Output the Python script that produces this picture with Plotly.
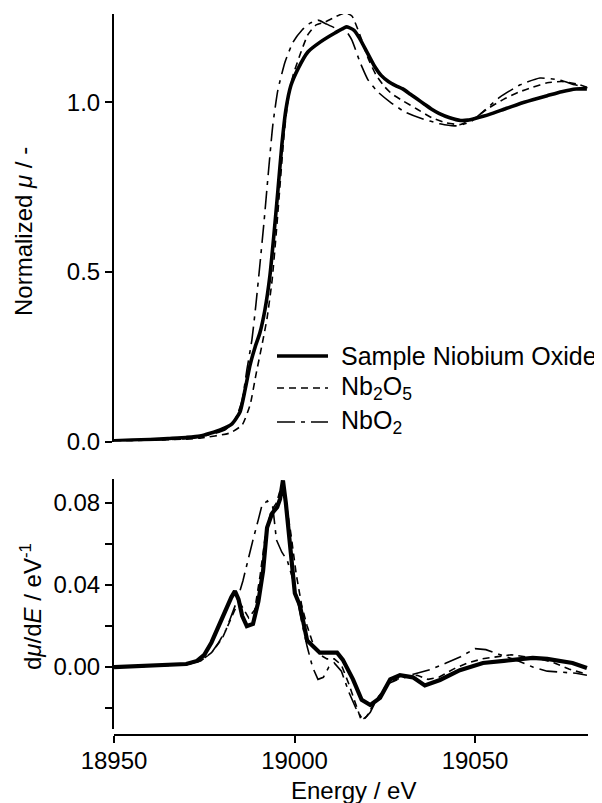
import plotly.graph_objects as go

# ---------------- data ----------------
# Normalized mu, top panel
E_sample = [18950, 18955, 18960, 18965, 18970, 18973.8, 18979.4, 18982.7, 18984.9, 18986.3,
            18987.7, 18989.1, 18990.4, 18991.8, 18993.2, 18994.3, 18995.4, 18996.5, 18997.6,
            18999.0, 19001.0, 19003.7, 19007.1, 19011.2, 19014.5, 19016.5, 19018, 19020, 19022,
            19024, 19026, 19028, 19030, 19032, 19034, 19036, 19038, 19040, 19043, 19046, 19048,
            19050, 19054, 19058, 19062, 19066, 19070, 19074, 19078, 19081]
mu_sample = [0.002, 0.004, 0.006, 0.009, 0.012, 0.016, 0.034, 0.052, 0.087, 0.152,
             0.226, 0.279, 0.32, 0.388, 0.49, 0.61, 0.74, 0.875, 0.978,
             1.05, 1.10, 1.149, 1.178, 1.205, 1.223, 1.213, 1.19, 1.15, 1.11,
             1.08, 1.062, 1.05, 1.04, 1.025, 1.01, 0.995, 0.98, 0.968, 0.955, 0.947, 0.948,
             0.953, 0.965, 0.98, 0.995, 1.008, 1.02, 1.032, 1.04, 1.04]

E_nb2o5 = [18950, 18960, 18970, 18973.8, 18982.1, 18985.5, 18987.7, 18989.3, 18991, 18992.4,
           18993.8, 18994.9, 18996, 18997.1, 18998.2, 18999.6, 19001.5, 19003.7, 19006, 19008.4,
           19011.2, 19014, 19015.9, 19018.1, 19020.4, 19022.6, 19025, 19027, 19030, 19034, 19038,
           19042, 19046, 19050, 19054, 19058, 19062, 19066, 19070, 19074, 19078, 19081]
mu_nb2o5 = [0.001, 0.004, 0.007, 0.01, 0.025, 0.049, 0.108, 0.196, 0.285, 0.364,
            0.476, 0.609, 0.757, 0.904, 1.007, 1.08, 1.14, 1.2, 1.229, 1.237,
            1.252, 1.264, 1.255, 1.2, 1.13, 1.081, 1.046, 1.025, 1.005, 0.98, 0.955,
            0.94, 0.935, 0.955, 0.985, 1.01, 1.03, 1.045, 1.058, 1.062, 1.055, 1.045]

E_nbo2 = [18950, 18960, 18970, 18973.8, 18980.7, 18983.5, 18985.5, 18986.8, 18988.2, 18989.3,
          18990.4, 18991.6, 18992.7, 18994, 18995.4, 18997.4, 18999.6, 19002.1, 19004.3,
          19006.5, 19008.4, 19011.2, 19014, 19015.9, 19018.1, 19020.4, 19023.1, 19026.5,
          19030.6, 19034.8, 19040.3, 19044.5, 19048.6, 19052.8, 19056.9, 19062.5, 19068,
          19073.5, 19077.7, 19081.3]
mu_nbo2 = [0.001, 0.004, 0.008, 0.013, 0.034, 0.063, 0.122, 0.211, 0.3, 0.403,
           0.52, 0.653, 0.786, 0.934, 1.037, 1.12, 1.178, 1.214, 1.234,
           1.243, 1.234, 1.22, 1.214, 1.184, 1.12, 1.066, 1.031, 1.001,
           0.972, 0.954, 0.937, 0.931, 0.942, 0.978, 1.016, 1.052, 1.072,
           1.066, 1.052, 1.043]

# Derivative, bottom panel
dE_sample = [18950, 18955, 18960, 18965, 18970, 18973, 18975, 18977, 18979, 18981, 18982.5,
             18983.5, 18984.5, 18985.5, 18986.8, 18988.5, 18990, 18991.3, 18992.4, 18993.8,
             18995.2, 18996, 18996.8, 18997.6, 18998.8, 19000.1, 19001.5, 19003.5, 19007,
             19011.8, 19013.4, 19016.2, 19018.6, 19021, 19023.7, 19026.5, 19029.2, 19032.8,
             19036.1, 19040.3, 19045.8, 19052.2, 19058, 19062, 19066, 19070, 19074, 19077, 19081]
d_sample = [0.0, 0.0003, 0.0005, 0.001, 0.0015, 0.003, 0.006, 0.012, 0.02, 0.029, 0.034,
            0.037, 0.033, 0.025, 0.020, 0.021, 0.032, 0.047, 0.068, 0.075,
            0.078, 0.082, 0.091, 0.08, 0.06, 0.036, 0.030, 0.013, 0.007,
            0.007, 0.0035, -0.006, -0.016, -0.0185, -0.015, -0.006, -0.004, -0.005,
            -0.009, -0.0063, -0.0015, 0.002, 0.003, 0.0035, 0.0045, 0.004, 0.003, 0.002, -0.0005]

dE_nb2o5 = [18950, 18960, 18970, 18974, 18977, 18980, 18982, 18983.5, 18985, 18986, 18987.3,
            18989, 18990.5, 18992, 18993.5, 18995, 18996.5, 18997.5, 18999, 19000.5, 19002,
            19003.5, 19005, 19007, 19009, 19011, 19013, 19015, 19017, 19018.5, 19020, 19022,
            19025, 19028, 19031, 19034, 19037, 19040, 19044, 19048, 19052, 19056, 19060, 19064,
            19068, 19072, 19076, 19080]
d_nb2o5 = [0.0, 0.0004, 0.0012, 0.003, 0.007, 0.014, 0.022, 0.028, 0.031, 0.028, 0.024,
           0.028, 0.045, 0.065, 0.076, 0.08, 0.089, 0.082, 0.065, 0.045, 0.03,
           0.02, 0.012, 0.006, 0.004, 0.004, 0.001, -0.008, -0.018, -0.026, -0.024, -0.018,
           -0.01, -0.006, -0.005, -0.004, -0.006, -0.005, -0.001, 0.002, 0.004, 0.005, 0.006, 0.005,
           0.004, 0.002, -0.001, -0.003]

dE_nbo2 = [18950, 18960, 18970, 18974, 18977, 18979, 18981, 18982.5, 18984, 18985.7, 18987,
           18988.5, 18990, 18991, 18992.5, 18994, 18995, 18996.5, 18998, 19000, 19002, 19003.5,
           19005, 19006.5, 19008, 19009.5, 19011, 19013, 19015, 19017, 19019, 19021, 19023,
           19026, 19030, 19034, 19038, 19042, 19046, 19050, 19053, 19057, 19062, 19066, 19070,
           19074, 19078, 19081]
d_nbo2 = [0.0, 0.0004, 0.0012, 0.003, 0.007, 0.012, 0.018, 0.025, 0.032, 0.042, 0.052,
          0.062, 0.072, 0.079, 0.081, 0.078, 0.062, 0.056, 0.052, 0.04, 0.022, 0.01,
          0.0, -0.006, -0.005, 0.0, 0.002, -0.002, -0.012, -0.02, -0.026, -0.022, -0.015,
          -0.008, -0.005, -0.003, -0.001, 0.002, 0.005, 0.009, 0.0085, 0.006, 0.003, 0.0, -0.002,
          -0.0025, -0.003, -0.004]

series_names = ["Sample Niobium Oxide", "Nb<sub>2</sub>O<sub>5</sub>", "NbO<sub>2</sub>"]
x_ticks = [18950, 19000, 19050]
top_ticks = [0.0, 0.5, 1.0]
top_tick_text = ["0.0", "0.5", "1.0"]
bot_ticks = [0.0, 0.04, 0.08]
bot_tick_text = ["0.00", "0.04", "0.08"]

# ---------------- styles ----------------
FONT = "Liberation Sans, Arial, Helvetica, sans-serif"
styles = [
    dict(color="black", width=3.6, dash="solid"),
    dict(color="black", width=1.6, dash="7px,5px"),
    dict(color="black", width=1.6, dash="18px,6px,4px,6px"),
]
bottom_widths = [4.2, 1.6, 1.6]

fig = go.Figure()
tops = [(E_sample, mu_sample), (E_nb2o5, mu_nb2o5), (E_nbo2, mu_nbo2)]
bots = [(dE_sample, d_sample), (dE_nb2o5, d_nb2o5), (dE_nbo2, d_nbo2)]
for (xs, ys), st, nm in zip(tops, styles, series_names):
    fig.add_trace(go.Scatter(x=xs, y=ys, mode="lines", name=nm, showlegend=False,
                             line=dict(color=st["color"], width=st["width"], dash=st["dash"],
                                       shape="spline", smoothing=0.5),
                             xaxis="x2", yaxis="y2"))
for (xs, ys), st, bw, nm in zip(bots, styles, bottom_widths, series_names):
    fig.add_trace(go.Scatter(x=xs, y=ys, mode="lines", name=nm, showlegend=False,
                             line=dict(color=st["color"], width=bw, dash=st["dash"]),
                             xaxis="x", yaxis="y"))

# The page body adds an 8px margin, so the figure is drawn 8px in from the window corner.
OFF = 8
W, H = 602 - OFF, 803 - OFF
ml, mr, mt, mb = 114 - OFF, 14, 14 - OFF, 68
pw = W - ml - mr
ph = H - mt - mb

def px_x(px):
    """window pixel x -> paper coordinate"""
    return (px - OFF - ml) / pw

def px_y(py):
    """window pixel y -> paper coordinate"""
    return (H - mb - (py - OFF)) / ph

tickfont = dict(family=FONT, size=24, color="black")
xr = [18950, 19081.3]

fig.update_layout(
    width=W, height=H,
    margin=dict(l=ml, r=mr, t=mt, b=mb),
    paper_bgcolor="white", plot_bgcolor="white",
    font=dict(family=FONT, color="black"),
    xaxis=dict(range=xr, anchor="free", position=px_y(735), showline=True, linecolor="black",
               linewidth=2, ticks="outside", ticklen=7, tickwidth=2, tickcolor="black",
               tickvals=x_ticks, ticktext=[str(v) for v in x_ticks], tickfont=tickfont,
               ticklabelstandoff=-3, showgrid=False, zeroline=False),
    yaxis=dict(domain=[px_y(729), px_y(479)], range=[-0.0302, 0.0917], showline=True,
               linecolor="black", linewidth=2, ticks="outside", ticklen=7, tickwidth=2,
               tickcolor="black", tickvals=bot_ticks, ticktext=bot_tick_text, tickfont=tickfont,
               minor=dict(tickvals=[-0.02, 0.02, 0.06], ticks="outside", ticklen=7,
                          tickwidth=2, tickcolor="black"),
               showgrid=False, zeroline=False, anchor="x"),
    xaxis2=dict(range=xr, matches="x", visible=False, anchor="y2"),
    yaxis2=dict(domain=[px_y(441.5), px_y(14)], range=[0, 1.261], showline=True,
                linecolor="black", linewidth=2, ticks="outside", ticklen=7, tickwidth=2,
                tickcolor="black", tickvals=top_ticks, ticktext=top_tick_text, tickfont=tickfont,
                showgrid=False, zeroline=False, anchor="x2"),
    showlegend=False,
)

annots = [
    dict(text="Normalized <i>μ</i> / -", x=px_x(24), y=px_y(232), textangle=-90),
    dict(text="d<i>μ</i>/d<i>E</i> / eV<sup>-1</sup>", x=px_x(31), y=px_y(607), textangle=-90),
    dict(text="Energy / eV", x=px_x(353), y=px_y(790), textangle=0),
]
for a in annots:
    fig.add_annotation(xref="paper", yref="paper", x=a["x"], y=a["y"], text=a["text"],
                       textangle=a["textangle"], showarrow=False, xanchor="center",
                       yanchor="middle", font=dict(family=FONT, size=24, color="black"))

# manual legend
leg_rows = [356, 388, 422]
for nm, st, ry in zip(series_names, styles, leg_rows):
    fig.add_shape(type="line", xref="paper", yref="paper", x0=px_x(277), x1=px_x(328),
                  y0=px_y(ry), y1=px_y(ry),
                  line=dict(color="black", width=st["width"], dash=st["dash"]))
    fig.add_annotation(xref="paper", yref="paper", x=px_x(339), y=px_y(ry), text=nm,
                       showarrow=False, xanchor="left", yanchor="middle",
                       font=dict(family=FONT, size=25, color="black"))

fig.write_html("out.html")
